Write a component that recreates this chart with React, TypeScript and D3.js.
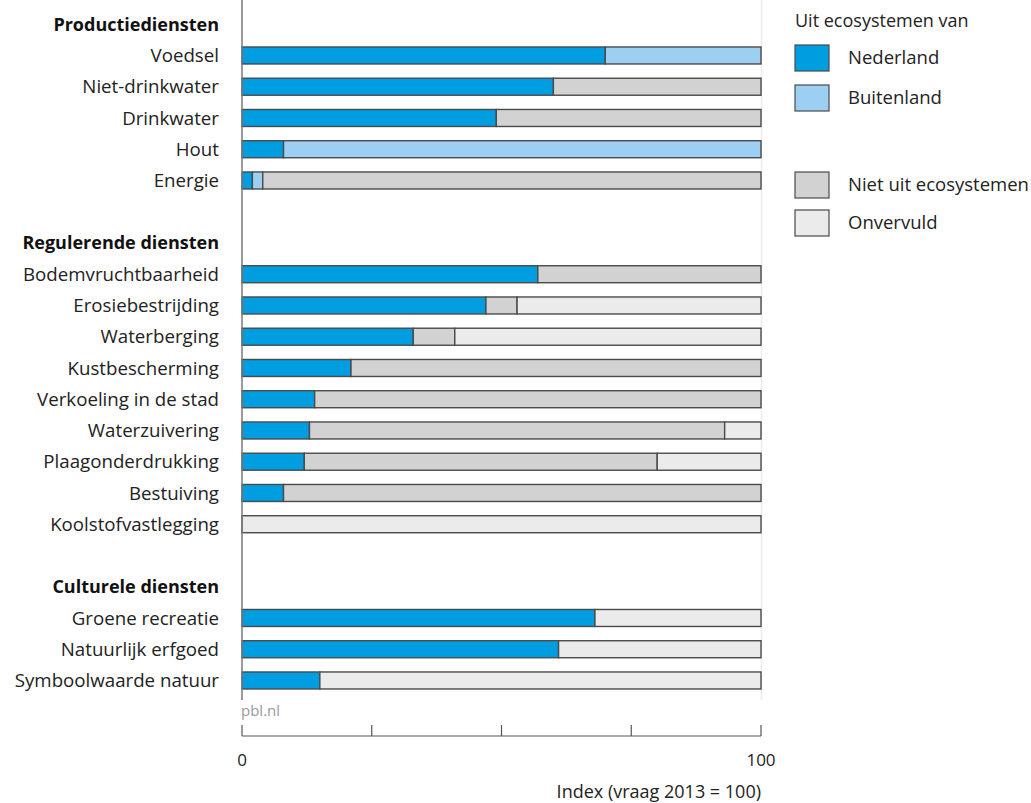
import React from "react";
import * as d3 from "d3";

const groups = ["Productiediensten", "Regulerende diensten", "Culturele diensten"];
const categories = [
  "Voedsel", "Niet-drinkwater", "Drinkwater", "Hout", "Energie",
  "Bodemvruchtbaarheid", "Erosiebestrijding", "Waterberging", "Kustbescherming",
  "Verkoeling in de stad", "Waterzuivering", "Plaagonderdrukking", "Bestuiving", "Koolstofvastlegging",
  "Groene recreatie", "Natuurlijk erfgoed", "Symboolwaarde natuur",
];
const categoryGroup = [0, 0, 0, 0, 0, 1, 1, 1, 1, 1, 1, 1, 1, 1, 2, 2, 2];
const nederland = [70, 60, 49, 8, 2, 57, 47, 33, 21, 14, 13, 12, 8, 0, 68, 61, 15];
const buitenland = [30, 0, 0, 92, 2, 0, 0, 0, 0, 0, 0, 0, 0, 0, 0, 0, 0];
const nietUit = [0, 40, 51, 0, 96, 43, 6, 8, 79, 86, 80, 68, 92, 0, 0, 0, 0];
const onvervuld = [0, 0, 0, 0, 0, 0, 47, 59, 0, 0, 7, 20, 0, 100, 32, 39, 85];

const seriesNames = ["Nederland", "Buitenland", "Niet uit ecosystemen", "Onvervuld"];
const seriesColors = ["#009ee0", "#9dcff2", "#d1d2d1", "#ebebeb"];
const xTicks = [0, 25, 50, 75, 100];
const xTickLabels = ["0", "100"];
const xTitle = "Index (vraag 2013 = 100)";
const legendTitle = "Uit ecosystemen van";

const FONT = "'Open Sans', Lato, sans-serif";

export default function App() {
  const rows: { key: string; type: "header" | "item" | "blank"; label: string; idx?: number }[] = [];
  groups.forEach((g, gi) => {
    if (gi > 0) rows.push({ key: "blank" + gi, type: "blank", label: "" });
    rows.push({ key: "h" + gi, type: "header", label: g });
    categories.forEach((c, ci) => {
      if (categoryGroup[ci] === gi) rows.push({ key: c, type: "item", label: c, idx: ci });
    });
  });

  const x = d3.scaleLinear().domain([0, 100]).range([242, 761]);
  const y = d3
    .scaleBand<string>()
    .domain(rows.map((r) => r.key))
    .range([8.6, 8.6 + rows.length * 31.25])
    .paddingInner(0.456)
    .paddingOuter(0.228);

  const data = categories.map((c, i) => ({
    key: c,
    vals: [nederland[i], buitenland[i], nietUit[i], onvervuld[i]],
  }));
  const stack = d3
    .stack<any, number>()
    .keys([0, 1, 2, 3])
    .value((d: any, k: number) => d.vals[k]);
  const stacked = stack(data as any);

  const legendItems = [
    { name: seriesNames[0], color: seriesColors[0], y: 45 },
    { name: seriesNames[1], color: seriesColors[1], y: 85 },
    { name: seriesNames[2], color: seriesColors[2], y: 172 },
    { name: seriesNames[3], color: seriesColors[3], y: 210 },
  ];

  const axisY = 736;

  return (
    <svg
      width={1031}
      height={803}
      style={{ position: "absolute", left: 0, top: 0, background: "#fff" }}
      fontFamily={FONT}
    >
      <line x1={x(100) + 0.5} x2={x(100) + 0.5} y1={0} y2={700} stroke="#ececec" strokeWidth={1.5} />
      {stacked.map((layer, li) => (
        <g key={li}>
          {layer.map((seg, i) => {
            const w = x(seg[1]) - x(seg[0]);
            if (w <= 0) return null;
            return (
              <rect
                key={i}
                x={x(seg[0])}
                y={y(categories[i])!}
                width={w}
                height={y.bandwidth()}
                fill={seriesColors[li]}
                stroke="#4a4a4a"
                strokeWidth={1.4}
              />
            );
          })}
        </g>
      ))}
      <line x1={x(0)} x2={x(0)} y1={0} y2={700} stroke="#7a7a7a" strokeWidth={1.5} />
      {rows.map((r) =>
        r.type === "blank" ? null : (
          <text
            key={r.key}
            x={219}
            y={y(r.key)! + y.bandwidth() / 2}
            dy="0.35em"
            textAnchor="end"
            fontSize={r.type === "header" ? 18 : 18.7}
            fontWeight={r.type === "header" ? 700 : 400}
            fill={r.type === "header" ? "#111" : "#222"}
          >
            {r.label}
          </text>
        )
      )}
      <text x={241} y={716} fontSize={15} fill="#999">pbl.nl</text>
      <line x1={x(0)} x2={x(100)} y1={axisY} y2={axisY} stroke="#555" strokeWidth={1.2} />
      {xTicks.map((t) => (
        <line key={t} x1={x(t)} x2={x(t)} y1={axisY} y2={axisY - 11} stroke="#555" strokeWidth={1.2} />
      ))}
      {[0, 100].map((t, i) => (
        <text key={t} x={x(t)} y={766} textAnchor="middle" fontSize={17} fill="#222">
          {xTickLabels[i]}
        </text>
      ))}
      <text x={x(100)} y={798} textAnchor="end" fontSize={18} fill="#222">
        {xTitle}
      </text>
      <text x={795} y={27} fontSize={18} fill="#222">{legendTitle}</text>
      {legendItems.map((it) => (
        <g key={it.name}>
          <rect x={795} y={it.y} width={34} height={26} fill={it.color} stroke="#4a4a4a" strokeWidth={1.2} />
          <text x={848} y={it.y + 13} dy="0.35em" fontSize={18.5} fill="#222">
            {it.name}
          </text>
        </g>
      ))}
    </svg>
  );
}
